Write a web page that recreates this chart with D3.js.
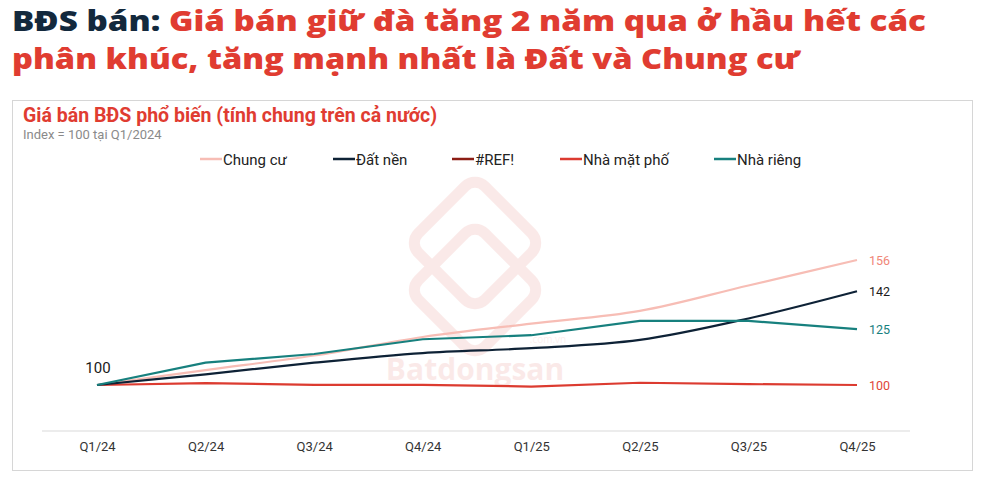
<!DOCTYPE html>
<html><head><meta charset="utf-8">
<script src="https://cdn.jsdelivr.net/npm/d3@7"></script>
<style>
body{margin:0;background:#fff;}
svg{display:block;}
</style></head>
<body>
<svg id="chart" width="981" height="479"></svg>
<script>
const categories = ["Q1/24","Q2/24","Q3/24","Q4/24","Q1/25","Q2/25","Q3/25","Q4/25"];
const seriesNames = ["Chung cư","Đất nền","#REF!","Nhà mặt phố","Nhà riêng"];
const chungCu   = [100, 106.7, 113.2, 121.5, 127.5, 133.2, 144.6, 156];
const datNen    = [100, 104.8, 110.0, 114.3, 116.5, 120.2, 129.8, 142];
const refSeries = [];
const nhaMatPho = [100, 100.8, 100.1, 100.1, 99.3, 101.0, 100.4, 100];
const nhaRieng  = [100, 110.0, 113.9, 120.5, 122.3, 128.7, 128.7, 125];
const endLabels = ["156","142","","100","125"];
const colors = ["#f7bdb5","#0e2236","#8c1d14","#dc3b30","#17807e"];

const svg = d3.select("#chart");
const navy = "#13293d", red = "#e03c31";

// Title
const titleFont = "'Open Sans', Inter, sans-serif";
const t1 = svg.append("text").attr("x",12).attr("y",31)
  .attr("font-family",titleFont).attr("font-weight",800).attr("font-size",28)
  .attr("textLength",914).attr("lengthAdjust","spacingAndGlyphs");
t1.append("tspan").attr("fill",navy).text("BĐS bán: ");
t1.append("tspan").attr("fill",red).text("Giá bán giữ đà tăng 2 năm qua ở hầu hết các");
svg.append("text").attr("x",12).attr("y",69)
  .attr("font-family",titleFont).attr("font-weight",800).attr("font-size",28)
  .attr("textLength",788).attr("lengthAdjust","spacingAndGlyphs")
  .attr("fill",red).text("phân khúc, tăng mạnh nhất là Đất và Chung cư");

// Panel border
svg.append("rect").attr("x",12.5).attr("y",100.5).attr("width",960).attr("height",370)
  .attr("fill","none").attr("stroke","#d6d6d6");

// Watermark
const wm = svg.append("g").attr("opacity",0.1).attr("fill","none").attr("stroke","#d9342b")
  .attr("stroke-width",11).attr("stroke-linejoin","round");
[[475,243],[475,290]].forEach(([cx,cy])=>{
  wm.append("rect").attr("x",cx-47).attr("y",cy-47).attr("width",94).attr("height",94)
    .attr("rx",14).attr("transform",`rotate(45,${cx},${cy})`);
});
svg.append("text").attr("x",475).attr("y",380).attr("text-anchor","middle")
  .attr("font-family","'Open Sans', sans-serif").attr("font-weight",700).attr("font-size",30)
  .attr("fill","#d9342b").attr("opacity",0.1).text("Batdongsan");
svg.append("text").attr("x",548).attr("y",343).attr("text-anchor","middle")
  .attr("font-family","'Open Sans', sans-serif").attr("font-size",10)
  .attr("fill","#d9342b").attr("opacity",0.08).text(".com.vn");

// Subtitle
svg.append("text").attr("x",23).attr("y",122).attr("fill",red)
  .attr("font-family","Roboto, sans-serif").attr("font-weight",700).attr("font-size",19.5)
  .text("Giá bán BĐS phổ biến (tính chung trên cả nước)");
svg.append("text").attr("x",23).attr("y",139).attr("fill","#8a8a8a")
  .attr("font-family","Roboto, sans-serif").attr("font-size",13)
  .text("Index = 100 tại Q1/2024");

// Legend
const legendX = [200,333,452,560,714];
seriesNames.forEach((n,i)=>{
  const g = svg.append("g").attr("transform",`translate(${legendX[i]},159)`);
  g.append("line").attr("x1",0).attr("x2",22).attr("y1",0).attr("y2",0)
    .attr("stroke",colors[i]).attr("stroke-width",2.5);
  g.append("text").attr("x",23).attr("y",5.5).attr("font-family","Roboto, sans-serif")
    .attr("font-size",15).attr("fill","#222").text(n);
});

// Scales
const x = d3.scalePoint().domain(categories).range([97,857]);
const y = d3.scaleLinear().domain([100,156]).range([385,260]);

// Axis
const axis = d3.axisBottom(x).tickSize(0).tickPadding(11);
const ag = svg.append("g").attr("transform","translate(0,431)").call(axis);
ag.select(".domain").remove();
svg.append("line").attr("x1",42).attr("x2",910).attr("y1",431).attr("y2",431)
  .attr("stroke","#e6e6e6").attr("stroke-width",1.5);
ag.selectAll("text").attr("font-family","Roboto, sans-serif").attr("font-size",13).attr("fill","#333");

// Lines
const data = [chungCu, datNen, refSeries, nhaMatPho, nhaRieng];
const curves = [d3.curveCatmullRom, d3.curveCatmullRom, d3.curveLinear, d3.curveLinear, d3.curveLinear];
const drawOrder = [3,0,1,4];
drawOrder.forEach(i=>{
  const vals = data[i];
  if(!vals.length) return;
  const line = d3.line().x((d,j)=>x(categories[j])).y(d=>y(d)).curve(curves[i]);
  svg.append("path").datum(vals).attr("d",line).attr("fill","none")
    .attr("stroke",colors[i]).attr("stroke-width",2.2);
});

// End labels
const labelColors = ["#f08678","#1a1a1a","#8c1d14","#e0453a","#17807e"];
data.forEach((vals,i)=>{
  if(!vals.length || !endLabels[i]) return;
  svg.append("text").attr("x",x(categories[categories.length-1])+12)
    .attr("y",y(vals[vals.length-1])+4.5)
    .attr("font-family","Roboto, sans-serif").attr("font-size",12.5)
    .attr("fill",labelColors[i]).text(endLabels[i]);
});
// Start label
svg.append("text").attr("x",x(categories[0])+1).attr("y",y(chungCu[0])-12)
  .attr("text-anchor","middle").attr("font-family","Roboto, sans-serif")
  .attr("font-size",15).attr("fill","#1a1a1a").text("100");
</script>
</body></html>
